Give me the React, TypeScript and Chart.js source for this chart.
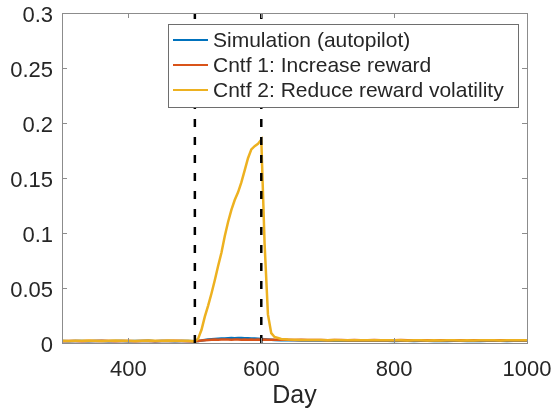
import React, { useEffect, useRef } from "react";
import { Chart, registerables } from "chart.js";

Chart.register(...registerables);

// Day grid: coarse outside the intervention window, finer across it.
const days: number[] = [
  300, 310, 320, 330, 340, 350, 360, 370, 380, 390,
  400, 410, 420, 430, 440, 450, 460, 470, 480, 490,
  500, 505, 510, 515, 520, 525, 530, 535, 540, 545,
  550, 555, 560, 565, 570, 575, 580, 585, 590, 595,
  600, 605, 610, 615, 620,
  630, 640, 650, 660, 670, 680, 690, 700, 710, 720,
  730, 740, 750, 760, 770, 780, 790, 800, 810, 820,
  830, 840, 850, 860, 870, 880, 890, 900, 910, 920,
  930, 940, 950, 960, 970, 980, 990, 1000,
];

const simulation: number[] = [
  0.0018, 0.0017, 0.0019, 0.0018, 0.0016, 0.0019, 0.0018, 0.0017, 0.0019, 0.0018,
  0.0017, 0.0019, 0.0018, 0.0020, 0.0017, 0.0018, 0.0019, 0.0017, 0.0018, 0.0019,
  0.0016, 0.0018, 0.0022, 0.0027, 0.0031, 0.0034, 0.0037, 0.0039, 0.0041, 0.0042,
  0.0044, 0.0045, 0.0044, 0.0046, 0.0045, 0.0043, 0.0044, 0.0042, 0.0040, 0.0038,
  0.0036, 0.0034, 0.0032, 0.0030, 0.0028,
  0.0026, 0.0025, 0.0024, 0.0023, 0.0024, 0.0022, 0.0023, 0.0022, 0.0021, 0.0022,
  0.0021, 0.0020, 0.0021, 0.0022, 0.0020, 0.0021, 0.0020, 0.0019, 0.0021, 0.0020,
  0.0019, 0.0020, 0.0021, 0.0019, 0.0020, 0.0019, 0.0020, 0.0021, 0.0019, 0.0020,
  0.0019, 0.0020, 0.0021, 0.0020, 0.0019, 0.0020, 0.0021, 0.0020,
];

const increaseReward: number[] = [
  0.0017, 0.0019, 0.0018, 0.0017, 0.0019, 0.0018, 0.0020, 0.0018, 0.0017, 0.0019,
  0.0018, 0.0017, 0.0019, 0.0018, 0.0017, 0.0019, 0.0018, 0.0020, 0.0018, 0.0017,
  0.0015, 0.0018, 0.0022, 0.0026, 0.0028, 0.0030, 0.0031, 0.0030, 0.0031, 0.0032,
  0.0031, 0.0030, 0.0031, 0.0032, 0.0030, 0.0031, 0.0030, 0.0031, 0.0030, 0.0031,
  0.0030, 0.0031, 0.0030, 0.0029, 0.0030,
  0.0029, 0.0030, 0.0028, 0.0029, 0.0028, 0.0027, 0.0028, 0.0026, 0.0027, 0.0028,
  0.0026, 0.0027, 0.0026, 0.0025, 0.0027, 0.0026, 0.0025, 0.0026, 0.0027, 0.0025,
  0.0026, 0.0024, 0.0025, 0.0026, 0.0025, 0.0024, 0.0025, 0.0026, 0.0024, 0.0025,
  0.0026, 0.0024, 0.0025, 0.0024, 0.0025, 0.0026, 0.0025, 0.0024,
];

const reduceVolatility: number[] = [
  0.0020, 0.0019, 0.0021, 0.0020, 0.0022, 0.0020, 0.0019, 0.0021, 0.0022, 0.0020,
  0.0021, 0.0019, 0.0020, 0.0022, 0.0021, 0.0020, 0.0022, 0.0021, 0.0020, 0.0021,
  0.0015, 0.0040, 0.0120, 0.0240, 0.0340, 0.0450, 0.0570, 0.0700, 0.0820, 0.0970,
  0.1100, 0.1210, 0.1300, 0.1370, 0.1460, 0.1570, 0.1680, 0.1760, 0.1790, 0.1810,
  0.1850, 0.0900, 0.0260, 0.0090, 0.0055,
  0.0036, 0.0031, 0.0029, 0.0028, 0.0027, 0.0027, 0.0028, 0.0026, 0.0027, 0.0026,
  0.0026, 0.0025, 0.0026, 0.0025, 0.0024, 0.0025, 0.0024, 0.0025, 0.0024, 0.0023,
  0.0024, 0.0025, 0.0023, 0.0024, 0.0023, 0.0024, 0.0025, 0.0023, 0.0024, 0.0023,
  0.0024, 0.0025, 0.0024, 0.0023, 0.0024, 0.0025, 0.0024, 0.0024,
];

// Intervention window boundaries (dashed markers)
const windowDays: number[] = [500, 600];

const seriesLabels: string[] = [
  "Simulation (autopilot)",
  "Cntf 1: Increase reward",
  "Cntf 2: Reduce reward volatility",
];
const seriesColors: string[] = ["#0072BD", "#D95319", "#EDB120"];

const xTicks: number[] = [400, 600, 800, 1000];
const yTicks: number[] = [0, 0.05, 0.1, 0.15, 0.2, 0.25, 0.3];

const FONT = "'Liberation Sans', Arial, Helvetica, sans-serif";
const TEXT = "#262626";
const AXIS = "#8c8c8c";

const toPoints = (ys: number[]) => days.map((d, i) => ({ x: d, y: ys[i] }));

// Box around the plot area with inward ticks on all four sides
const boxPlugin = {
  id: "matlabBox",
  afterDraw(chart: any) {
    const { ctx, chartArea: a, scales } = chart;
    const len = 5;
    ctx.save();
    ctx.strokeStyle = AXIS;
    ctx.lineWidth = 1;
    ctx.beginPath();
    for (const v of xTicks) {
      const px = Math.round(scales.x.getPixelForValue(v)) + 0.5;
      ctx.moveTo(px, a.bottom);
      ctx.lineTo(px, a.bottom - len);
      ctx.moveTo(px, a.top);
      ctx.lineTo(px, a.top + len);
    }
    for (const v of yTicks) {
      const py = Math.round(scales.y.getPixelForValue(v)) + 0.5;
      ctx.moveTo(a.left, py);
      ctx.lineTo(a.left + len, py);
      ctx.moveTo(a.right, py);
      ctx.lineTo(a.right - len, py);
    }
    ctx.stroke();
    ctx.strokeRect(
      Math.round(a.left) + 0.5,
      Math.round(a.top) + 0.5,
      Math.round(a.right - a.left),
      Math.round(a.bottom - a.top)
    );
    ctx.restore();
  },
};

// Legend box in the upper right of the plot area
const legendPlugin = {
  id: "boxLegend",
  afterDraw(chart: any) {
    const { ctx } = chart;
    const left = 168;
    const top = 24;
    const width = 350;
    const height = 83;
    const rowH = 25;
    ctx.save();
    ctx.fillStyle = "#ffffff";
    ctx.fillRect(left, top, width, height);
    ctx.strokeStyle = "#6e6e6e";
    ctx.lineWidth = 1;
    ctx.strokeRect(left + 0.5, top + 0.5, width, height);
    ctx.font = `21px ${FONT}`;
    ctx.textBaseline = "middle";
    ctx.textAlign = "left";
    seriesLabels.forEach((label, i) => {
      const cy = top + 16 + i * rowH;
      ctx.strokeStyle = seriesColors[i];
      ctx.lineWidth = 2;
      ctx.beginPath();
      ctx.moveTo(left + 5, cy);
      ctx.lineTo(left + 40, cy);
      ctx.stroke();
      ctx.fillStyle = TEXT;
      ctx.fillText(label, left + 45, cy + 1);
    });
    ctx.restore();
  },
};

export default function App() {
  const canvasRef = useRef<HTMLCanvasElement | null>(null);

  useEffect(() => {
    if (!canvasRef.current) return;
    const seriesData = [simulation, increaseReward, reduceVolatility];

    const lineSets = seriesData.map((ys, i) => ({
      label: seriesLabels[i],
      data: toPoints(ys),
      borderColor: seriesColors[i],
      backgroundColor: seriesColors[i],
      borderWidth: 2.5,
      pointRadius: 0,
      tension: 0,
      order: 3 - i,
    }));

    const markerSets = windowDays.map((d) => ({
      label: `day ${d}`,
      data: [
        { x: d, y: yTicks[0] },
        { x: d, y: yTicks[yTicks.length - 1] },
      ],
      borderColor: "#000000",
      borderWidth: 2.5,
      borderDash: [8, 10],
      pointRadius: 0,
      order: 0,
    }));

    const chart = new Chart(canvasRef.current, {
      type: "line",
      data: { datasets: [...lineSets, ...markerSets] as any },
      options: {
        responsive: false,
        animation: false,
        devicePixelRatio: 1,
        layout: { padding: { top: 13, right: 28, left: 0, bottom: 0 } },
        plugins: {
          legend: { display: false },
          tooltip: { enabled: false },
        },
        scales: {
          x: {
            type: "linear",
            min: 300,
            max: 1000,
            afterBuildTicks: (scale: any) => {
              scale.ticks = xTicks.map((v) => ({ value: v }));
            },
            afterFit: (scale: any) => {
              scale.height = 72;
              scale.paddingLeft = 0;
              scale.paddingRight = 0;
            },
            grid: { display: false, drawTicks: false },
            border: { display: false },
            ticks: {
              color: TEXT,
              font: { family: FONT, size: 22 },
              padding: 14,
              maxRotation: 0,
              callback: (v: any) => String(v),
            },
            title: {
              display: true,
              text: "Day",
              color: TEXT,
              font: { family: FONT, size: 25 },
              padding: { top: 0, bottom: 4 },
            },
          },
          y: {
            type: "linear",
            min: 0,
            max: 0.3,
            afterBuildTicks: (scale: any) => {
              scale.ticks = yTicks.map((v) => ({ value: v }));
            },
            afterFit: (scale: any) => {
              scale.width = 62;
              scale.paddingTop = 0;
              scale.paddingBottom = 0;
            },
            grid: { display: false, drawTicks: false },
            border: { display: false },
            ticks: {
              color: TEXT,
              font: { family: FONT, size: 22 },
              padding: 9,
              labelOffset: 3,
              callback: (v: any) => String(v),
            },
          },
        },
      },
      plugins: [boxPlugin, legendPlugin],
    });

    return () => chart.destroy();
  }, []);

  return (
    <div
      style={{
        position: "fixed",
        left: 0,
        top: 0,
        width: "555px",
        height: "415px",
        background: "#ffffff",
      }}
    >
      <canvas
        ref={canvasRef}
        width={555}
        height={415}
        style={{ display: "block", width: "555px", height: "415px" }}
      />
    </div>
  );
}
